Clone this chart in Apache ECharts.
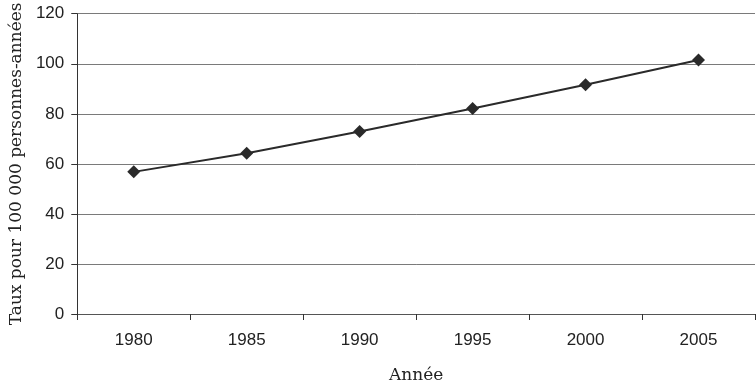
<!DOCTYPE html>
<html>
<head>
<meta charset="utf-8">
<script src="https://cdn.jsdelivr.net/npm/echarts@6/dist/echarts.min.js"></script>
<style>html,body{margin:0;padding:0;background:#fff}#c{width:756px;height:389px}</style>
</head>
<body>
<div id="c"></div>
<script>
var years = ['1980', '1985', '1990', '1995', '2000', '2005'];
var rates = [56.8, 64.2, 72.9, 82.1, 91.6, 101.5];
var yMin = 0, yMax = 120, yStep = 20;
var xName = 'Année';
var yName = 'Taux pour 100 000 personnes-années';

var chart = echarts.init(document.getElementById('c'), null, {renderer: 'canvas'});
chart.setOption({
  animation: false,
  backgroundColor: '#fff',
  grid: {left: 76, right: 1, top: 13, bottom: 74, containLabel: false},
  xAxis: {
    type: 'category',
    data: years,
    boundaryGap: true,
    name: xName,
    nameLocation: 'middle',
    nameGap: 53,
    nameTextStyle: {fontFamily: 'DejaVu Serif', fontSize: 17, color: '#222'},
    axisLine: {show: true, lineStyle: {color: '#555', width: 1}},
    axisTick: {show: true, inside: false, length: 6, alignWithLabel: false, lineStyle: {color: '#333'}},
    axisLabel: {fontFamily: 'Liberation Sans', fontSize: 17, color: '#222', margin: 18},
    splitLine: {show: false}
  },
  yAxis: {
    type: 'value',
    min: yMin, max: yMax, interval: yStep,
    name: yName,
    nameLocation: 'middle',
    nameGap: 52,
    nameTextStyle: {fontFamily: 'DejaVu Serif', fontSize: 17, color: '#222'},
    axisLine: {show: true, lineStyle: {color: '#333', width: 1}},
    axisTick: {show: true, length: 6, lineStyle: {color: '#333'}},
    axisLabel: {fontFamily: 'Liberation Sans', fontSize: 17, color: '#222', margin: 13},
    splitLine: {show: true, lineStyle: {color: '#7a7a7a', width: 1}}
  },
  series: [{
    type: 'line',
    data: rates,
    symbol: 'diamond',
    symbolSize: 13,
    lineStyle: {color: '#2a2a2a', width: 2},
    itemStyle: {color: '#2a2a2a'}
  }]
});
</script>
</body>
</html>
